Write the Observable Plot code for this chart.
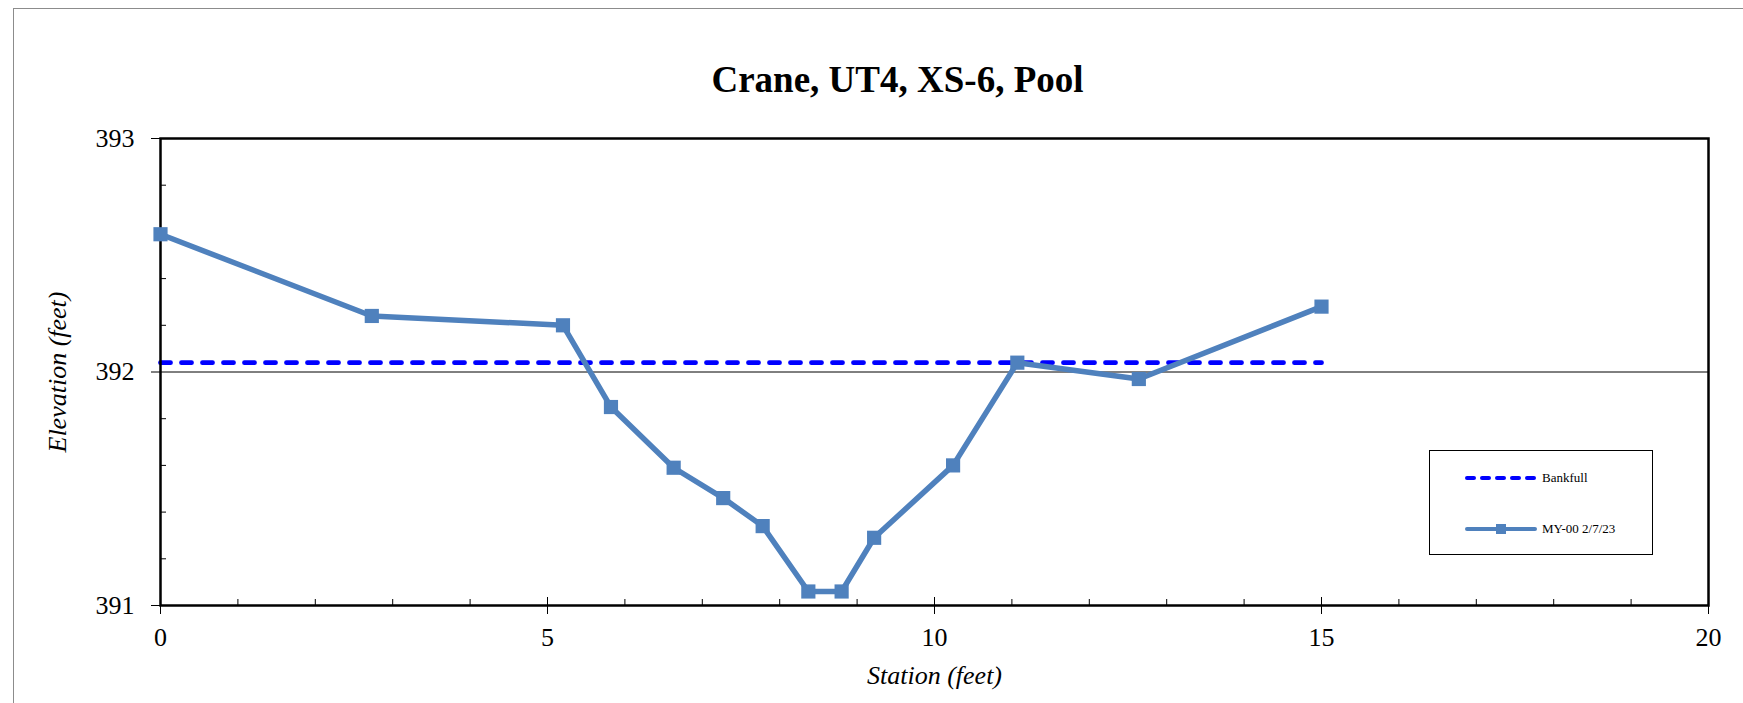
<!DOCTYPE html>
<html>
<head>
<meta charset="utf-8">
<script src="https://cdn.jsdelivr.net/npm/d3@7"></script>
<script src="https://cdn.jsdelivr.net/npm/@observablehq/plot@0.6"></script>
<style>
  body { margin: 0; background: #fff; }
  #wrap { position: relative; width: 1743px; height: 703px; overflow: hidden;
          font-family: "Liberation Serif", "Times New Roman", serif; color: #000; }
  #frame { position: absolute; left: 13px; top: 8px; width: 1800px; height: 800px;
           border-left: 1px solid #8c8c8c; border-top: 1.5px solid #8c8c8c; pointer-events: none; }
  #title { box-sizing: border-box; width: 1743px; height: 110px; padding-top: 61px; padding-left: 52px;
           text-align: center; font-weight: bold; font-size: 37px; line-height: 37px; }
  #legend { position: absolute; left: 1429px; top: 450px; width: 222px; height: 103px;
            border: 1px solid #000; background: #fff; font-size: 13px; }
  .row { position: absolute; left: 34px; height: 20px; display: flex; align-items: center; }
  .row svg { display: block; }
  .row span { margin-left: 4px; white-space: nowrap; }
  g[aria-label="x-axis label"] text, g[aria-label="y-axis label"] text { font-style: italic; }
</style>
</head>
<body>
<div id="wrap">
  <div id="frame"></div>
  <div id="title">Crane, UT4, XS-6, Pool</div>
  <div id="chart"></div>
  <div id="legend"></div>
</div>
<script>
// ---- data ----
const station   = [0, 2.73, 5.2, 5.82, 6.63, 7.27, 7.78, 8.37, 8.8, 9.22, 10.24, 11.07, 12.64, 15.0];
const elevation = [392.59, 392.24, 392.2, 391.85, 391.59, 391.46, 391.34, 391.06, 391.06, 391.29, 391.6, 392.04, 391.97, 392.28];
const bankfullStation   = [0, 15];
const bankfullElevation = [392.04, 392.04];
const xMajor = [0, 5, 10, 15, 20];
const xMinor = [1, 2, 3, 4, 6, 7, 8, 9, 11, 12, 13, 14, 16, 17, 18, 19];
const yMajor = [391, 392, 393];
const yMinor = [391.2, 391.4, 391.6, 391.8, 392.2, 392.4, 392.6, 392.8];
const yGrid  = [392];
const seriesNames = ["Bankfull", "MY-00 2/7/23"];

const survey = station.map((s, i) => ({station: s, elevation: elevation[i]}));
const bankfull = bankfullStation.map((s, i) => ({station: s, elevation: bankfullElevation[i]}));

const W = 1743, H = 593, mt = 28, mb = 98, ml = 160, mr = 35;
const plotW = W - ml - mr, plotH = H - mt - mb;
const lineColor = "#4F81BD", bankColor = "#0000FF";

const chart = Plot.plot({
  width: W, height: H,
  marginTop: mt, marginBottom: mb, marginLeft: ml, marginRight: mr,
  style: {fontFamily: '"Liberation Serif", "Times New Roman", serif', fontSize: "26px", color: "#000", background: "transparent", overflow: "visible"},
  x: {domain: [0, 20]},
  y: {domain: [391, 393]},
  marks: [
    Plot.ruleY(yGrid, {stroke: "#000", strokeWidth: 1}),
    Plot.ruleX(xMinor, {stroke: "#000", strokeWidth: 1, insetTop: plotH - 6}),
    Plot.ruleX(xMajor, {stroke: "#000", strokeWidth: 1, insetTop: plotH - 8}),
    Plot.ruleY(yMinor, {stroke: "#000", strokeWidth: 1, insetRight: plotW - 6}),
    Plot.axisX({ticks: xMajor, tickSize: 9, tickPadding: 13, tickFormat: d => String(d), stroke: "#000",
                label: "Station (feet)", labelAnchor: "center", labelOffset: 78, labelArrow: false}),
    Plot.axisY({ticks: yMajor, tickSize: 9, tickPadding: 17, tickFormat: d => String(d), stroke: "#000",
                label: "Elevation (feet)", labelAnchor: "center", labelOffset: 113, labelArrow: false}),
    Plot.line(bankfull, {x: "station", y: "elevation", stroke: bankColor, strokeWidth: 4.8,
                         strokeDasharray: "10,11", strokeLinecap: "round"}),
    Plot.frame({stroke: "#000", strokeWidth: 2.5}),
    Plot.line(survey, {x: "station", y: "elevation", stroke: lineColor, strokeWidth: 5.5, strokeLinejoin: "round"}),
    Plot.dot(survey, {x: "station", y: "elevation", symbol: "square", r: 8, fill: lineColor, stroke: null})
  ]
});
document.getElementById("chart").appendChild(chart);

// ---- legend ----
const legend = document.getElementById("legend");
const rows = [
  {name: seriesNames[0], top: 17, svg: `<svg width="74" height="20"><line x1="3" y1="10" x2="71" y2="10" stroke="${bankColor}" stroke-width="4" stroke-dasharray="7,8" stroke-linecap="round"/></svg>`},
  {name: seriesNames[1], top: 68, svg: `<svg width="74" height="20"><line x1="3" y1="10" x2="71" y2="10" stroke="${lineColor}" stroke-width="4" stroke-linecap="round"/><rect x="32" y="5" width="10" height="10" fill="${lineColor}"/></svg>`}
];
rows.forEach(r => {
  const d = document.createElement("div");
  d.className = "row";
  d.style.top = r.top + "px";
  d.innerHTML = r.svg + `<span>${r.name}</span>`;
  legend.appendChild(d);
});
</script>
</body>
</html>
